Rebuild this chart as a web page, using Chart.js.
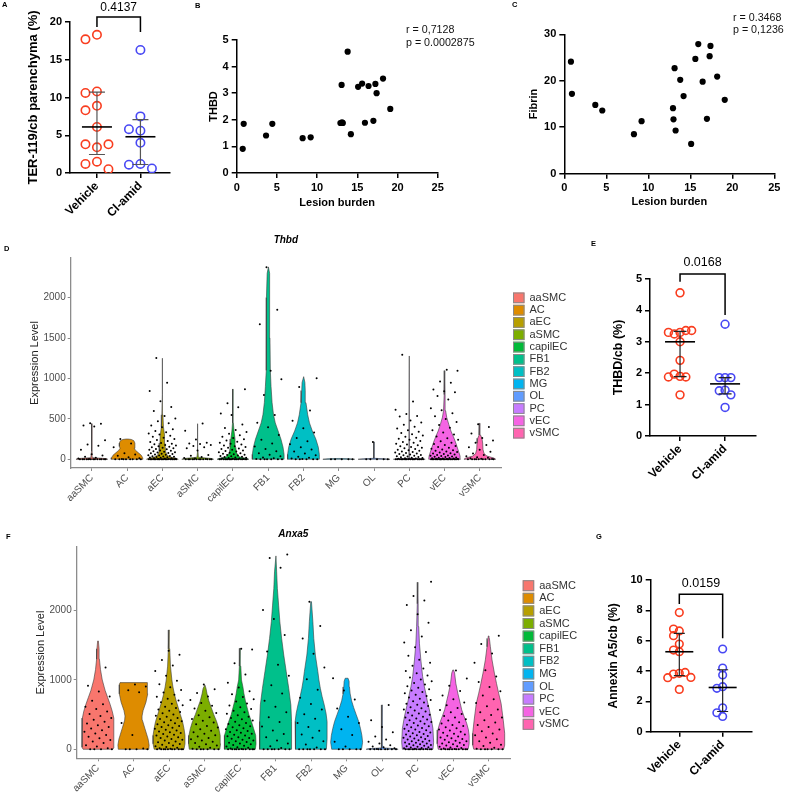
<!DOCTYPE html>
<html>
<head>
<meta charset="utf-8">
<script src="https://cdn.jsdelivr.net/npm/chart.js@4.4.1/dist/chart.umd.min.js"></script>
<style>
body { margin:0; background:#fff; width:786px; height:792px; position:relative; overflow:hidden; font-family:"Liberation Sans", Arial, sans-serif; }
canvas { position:absolute; }
.tag { position:absolute; font:bold 7.5px/8px "Liberation Sans", Arial, sans-serif; color:#000; }
.note { position:absolute; font:10.7px/13px "Liberation Sans", Arial, sans-serif; color:#111; white-space:nowrap; }
</style>
</head>
<body>
<canvas id="cA" width="180" height="225" style="left:0;top:0"></canvas>
<canvas id="cB" width="280" height="225" style="left:180px;top:0"></canvas>
<canvas id="cC" width="306" height="225" style="left:480px;top:0"></canvas>
<canvas id="cD" width="590" height="277" style="left:0;top:228px"></canvas>
<canvas id="cE" width="200" height="270" style="left:586px;top:235px"></canvas>
<canvas id="cF" width="590" height="272" style="left:0;top:520px"></canvas>
<canvas id="cG" width="200" height="272" style="left:586px;top:520px"></canvas>

<div class="tag" style="left:2px;top:1px">A</div>
<div class="tag" style="left:195px;top:2px">B</div>
<div class="tag" style="left:512px;top:1px">C</div>
<div class="tag" style="left:4px;top:245px">D</div>
<div class="tag" style="left:591px;top:240px">E</div>
<div class="tag" style="left:6px;top:533px">F</div>
<div class="tag" style="left:596px;top:533px">G</div>
<div class="note" style="left:406px;top:22.5px">r = 0,7128<br>p = 0.0002875</div>
<div class="note" style="left:733px;top:10.5px;line-height:12.5px">r = 0.3468<br>p = 0,1236</div>

<script>
Chart.defaults.font.family = "'Liberation Sans', Arial, Helvetica, sans-serif";
Chart.defaults.color = '#000';

// ---- data ----
const groupNames = ['Vehicle', 'Cl-amid'];
const groupColors = ['#F93D1F', '#4848F4'];

// A: TER-119/cb parenchyma (%)
const terVehicle = [18.3, 17.7, 10.8, 10.6, 8.9, 8.3, 6.1, 3.4, 3.8, 3.8, 1.5, 1.2, 0.5];
const terClamid = [16.3, 7.5, 5.6, 5.8, 4.0, 1.2, 1.1, 0.6];
const terTicks = [0, 5, 10, 15, 20];

// B: THBD vs lesion burden
const thbdLesion = [0.75, 0.87, 3.65, 4.43, 8.2, 9.2, 12.9, 13.05, 13.1, 13.2, 13.8, 14.2, 15.1, 15.6, 15.95, 16.4, 17.0, 17.25, 17.4, 18.2, 19.1];
const thbdLevel = [0.91, 1.85, 1.41, 1.85, 1.31, 1.34, 1.88, 3.31, 1.9, 1.88, 4.56, 1.46, 3.24, 3.36, 1.89, 3.27, 1.96, 3.35, 3.0, 3.55, 2.41];
const thbdTicks = [0, 1, 2, 3, 4, 5];

// C: Fibrin vs lesion burden
const fibrinLesion = [0.79, 0.91, 3.69, 4.52, 8.29, 9.2, 12.94, 13.0, 13.13, 13.25, 13.8, 14.2, 15.1, 15.6, 15.95, 16.47, 16.98, 17.3, 17.4, 18.2, 19.1];
const fibrinLevel = [24.1, 17.2, 14.8, 13.6, 8.5, 11.3, 14.1, 11.7, 22.7, 9.3, 20.2, 16.7, 6.4, 24.7, 27.9, 19.8, 11.8, 25.3, 27.5, 20.9, 15.9];
const fibrinTicks = [0, 10, 20, 30];
const lesionTicks = [0, 5, 10, 15, 20, 25];

// E: THBD/cb (%)
const thbdVehicle = [4.56, 3.3, 3.25, 3.36, 3.3, 3.36, 3.0, 2.41, 1.9, 1.97, 1.88, 1.88, 1.31];
const thbdClamid = [3.56, 1.86, 1.86, 1.86, 1.46, 1.44, 1.31, 0.91];
const thbdCbTicks = [0, 1, 2, 3, 4, 5];

// G: Annexin A5/cb (%)
const annexinVehicle = [7.85, 6.64, 6.33, 6.77, 5.78, 5.27, 5.38, 3.85, 3.8, 3.91, 3.56, 3.58, 2.79];
const annexinClamid = [5.45, 4.2, 3.74, 2.97, 2.86, 1.58, 1.25, 1.01];
const annexinTicks = [0, 2, 4, 6, 8, 10];

// D / F: single-cell violins
const cellTypes = ['aaSMC', 'AC', 'aEC', 'aSMC', 'capilEC', 'FB1', 'FB2', 'MG', 'OL', 'PC', 'vEC', 'vSMC'];
const cellColors = ['#F8766D', '#DE8C00', '#B79F00', '#7CAE00', '#00BA38', '#00C08B', '#00BFC4', '#00B4F0', '#619CFF', '#C77CFF', '#F564E3', '#FF64B0'];
const thbdExprTicks = [0, 500, 1000, 1500, 2000];
const anxa5ExprTicks = [0, 1000, 2000];

// violin half-widths [level, half width] per cell type
const thbdShape = [
  [[0, .45], [8, .4], [20, .03], [100, .01], [440, .006]],
  [[0, .45], [20, .44], [50, .4], [80, .32], [110, .24], [135, .2], [160, .22], [200, .22], [230, .19], [245, .12], [250, .03]],
  [[0, .45], [10, .4], [30, .2], [60, .12], [100, .09], [200, .07], [300, .06], [400, .03], [550, .015], [800, .008], [1250, .006]],
  [[0, .45], [10, .38], [25, .02], [100, .008], [440, .006]],
  [[0, .45], [10, .4], [30, .18], [80, .1], [150, .08], [250, .06], [350, .03], [450, .012], [867, .006]],
  [[0, .45], [60, .45], [150, .42], [250, .36], [350, .28], [450, .2], [550, .15], [700, .11], [900, .08], [1100, .06], [1500, .05], [2000, .05], [2300, .03], [2380, .005]],
  [[0, .45], [60, .45], [150, .42], [250, .35], [350, .25], [450, .17], [550, .12], [700, .07], [850, .05], [950, .04], [1022, .005]],
  [[0, .45], [6, .3], [10, .003]],
  [[0, .45], [6, .3], [12, .01], [215, .006]],
  [[0, .45], [6, .3], [12, .01], [1278, .006]],
  [[0, .45], [40, .44], [120, .38], [200, .32], [280, .25], [350, .18], [430, .12], [520, .06], [600, .03], [800, .015], [1097, .006]],
  [[0, .45], [15, .4], [40, .2], [70, .12], [120, .09], [200, .08], [260, .06], [300, .02], [445, .006]]
];
const thbdCells = [
  [0, 0, 0, 0, 0, 0, 0, 0, 0, 0, 0, 0, 0, 4, 9, 18, 32, 48, 62, 118, 168, 182, 236, 405, 418, 440, 446],
  [0, 0, 0, 0, 0, 0, 0, 0, 3, 12, 25, 44, 60, 74, 148, 196, 252],
  [0, 0, 0, 0, 0, 0, 0, 0, 0, 0, 0, 0, 0, 0, 0, 0, 0, 0, 0, 0, 2, 4, 7, 9, 12, 14, 18, 21, 24, 28, 31, 35, 38, 42, 47, 51, 56, 60, 64, 69, 73, 78, 84, 88, 93, 99, 104, 110, 117, 123, 128, 136, 142, 149, 155, 162, 170, 176, 185, 193, 201, 214, 226, 238, 251, 265, 278, 292, 305, 318, 334, 351, 372, 395, 418, 446, 470, 505, 535, 598, 648, 718, 845, 948, 1252],
  [0, 0, 0, 0, 0, 0, 0, 0, 0, 0, 0, 0, 3, 8, 16, 27, 44, 52, 108, 135, 148, 165, 176, 188, 196, 204, 246, 352, 442],
  [0, 0, 0, 0, 0, 0, 0, 0, 0, 0, 0, 0, 0, 0, 0, 0, 0, 2, 5, 8, 11, 15, 19, 23, 27, 32, 36, 41, 46, 52, 57, 63, 69, 75, 82, 88, 95, 102, 110, 118, 126, 134, 143, 152, 162, 171, 182, 193, 205, 218, 232, 247, 263, 280, 298, 317, 338, 362, 388, 430, 548, 566, 645, 692, 866],
  [0, 0, 0, 0, 0, 0, 4, 12, 23, 37, 55, 74, 98, 126, 158, 196, 242, 300, 396, 452, 548, 795, 990, 1095, 1670, 1850, 2375],
  [0, 0, 0, 0, 0, 3, 9, 18, 32, 51, 72, 96, 122, 150, 185, 222, 262, 330, 384, 478, 602, 895, 1002],
  [0, 0, 0, 0, 0],
  [0, 0, 0, 0, 0, 215],
  [0, 0, 0, 0, 0, 0, 0, 0, 0, 0, 0, 0, 0, 0, 0, 0, 0, 0, 2, 5, 8, 12, 16, 20, 25, 29, 34, 38, 43, 49, 54, 60, 65, 71, 77, 83, 90, 97, 104, 111, 119, 127, 135, 144, 153, 162, 172, 182, 193, 204, 215, 227, 240, 253, 266, 280, 295, 310, 326, 342, 360, 380, 402, 428, 455, 480, 528, 536, 560, 612, 716, 1292],
  [0, 0, 0, 0, 0, 0, 0, 0, 0, 0, 0, 0, 0, 0, 0, 0, 0, 0, 0, 0, 0, 0, 2, 4, 6, 9, 11, 14, 17, 20, 23, 27, 31, 35, 39, 44, 48, 53, 58, 64, 70, 76, 83, 90, 97, 105, 113, 122, 131, 141, 152, 164, 176, 190, 205, 222, 240, 260, 282, 305, 330, 358, 390, 425, 460, 498, 532, 570, 605, 632, 738, 782, 828, 842, 862, 948, 962, 1095, 1108],
  [0, 0, 0, 0, 0, 0, 0, 0, 0, 3, 7, 12, 18, 26, 38, 52, 70, 92, 118, 148, 176, 205, 232, 262, 318, 398, 432]
];

const anxa5Shape = [
  [[0, .42], [30, .45], [250, .45], [450, .44], [550, .4], [650, .34], [750, .27], [850, .2], [1000, .12], [1150, .07], [1300, .04], [1450, .03], [1563, .01]],
  [[0, .43], [60, .44], [150, .41], [300, .32], [420, .25], [480, .24], [560, .27], [680, .35], [800, .4], [930, .4], [962, .38]],
  [[0, .42], [80, .45], [200, .45], [300, .42], [400, .38], [500, .32], [600, .26], [700, .2], [800, .15], [900, .11], [1000, .08], [1200, .04], [1450, .02], [1722, .006]],
  [[0, .43], [80, .45], [200, .44], [300, .4], [400, .34], [500, .26], [600, .19], [700, .12], [800, .07], [880, .04], [928, .01]],
  [[0, .43], [80, .45], [200, .44], [300, .38], [400, .32], [500, .25], [600, .2], [700, .15], [800, .11], [900, .08], [1000, .04], [1200, .02], [1457, .006]],
  [[0, .45], [400, .45], [640, .43], [880, .37], [1120, .3], [1360, .23], [1600, .17], [1840, .12], [2080, .085], [2320, .05], [2560, .03], [2790, .01]],
  [[0, .43], [150, .45], [400, .45], [520, .42], [640, .37], [760, .31], [880, .26], [1000, .22], [1120, .19], [1360, .12], [1600, .075], [1840, .05], [2130, .01]],
  [[0, .42], [100, .45], [200, .43], [300, .39], [400, .34], [500, .27], [600, .2], [700, .14], [800, .1], [900, .08], [980, .07], [1025, .04]],
  [[0, .45], [8, .4], [20, .03], [60, .01], [640, .006]],
  [[0, .43], [100, .45], [300, .43], [450, .38], [570, .33], [700, .27], [810, .23], [900, .19], [1050, .14], [1290, .09], [1530, .05], [1770, .03], [2100, .015], [2410, .006]],
  [[0, .42], [80, .45], [200, .45], [280, .43], [375, .38], [470, .31], [570, .24], [660, .2], [810, .13], [950, .075], [1100, .04], [1145, .01]],
  [[0, .42], [60, .45], [230, .45], [420, .41], [660, .35], [810, .28], [950, .22], [1100, .16], [1290, .094], [1480, .047], [1600, .02], [1635, .01]]
];
const anxa5Cells = [
  [0, 0, 0, 0, 15, 40, 60, 90, 112, 135, 158, 182, 205, 228, 252, 276, 300, 322, 348, 372, 398, 425, 452, 480, 510, 545, 580, 612, 650, 700, 760, 832, 918, 1180],
  [0, 0, 0, 0, 12, 205, 380, 822, 852, 905, 935],
  [0, 0, 0, 0, 0, 0, 0, 0, 0, 0, 6, 15, 24, 34, 44, 55, 66, 78, 90, 102, 114, 126, 138, 150, 162, 174, 186, 198, 210, 222, 234, 246, 258, 270, 283, 296, 309, 322, 335, 348, 362, 376, 390, 405, 420, 436, 452, 468, 485, 502, 520, 538, 556, 575, 595, 615, 636, 658, 680, 705, 730, 758, 788, 820, 855, 895, 940, 990, 1060, 1130, 1210, 1290, 1365, 1420],
  [0, 0, 0, 0, 0, 0, 8, 22, 38, 55, 72, 90, 108, 126, 145, 164, 184, 204, 225, 246, 268, 290, 313, 336, 360, 385, 410, 436, 463, 492, 522, 555, 590, 628, 668, 712, 760, 812, 868, 935],
  [0, 0, 0, 0, 0, 0, 0, 0, 0, 0, 5, 13, 22, 31, 41, 51, 61, 72, 83, 94, 105, 116, 127, 139, 151, 163, 175, 187, 199, 211, 224, 237, 250, 263, 276, 290, 304, 318, 333, 348, 364, 380, 397, 414, 432, 450, 470, 490, 511, 533, 556, 580, 605, 632, 660, 690, 722, 756, 795, 838, 890, 960, 1080, 1240, 1440, 1452],
  [0, 0, 0, 0, 0, 0, 0, 18, 45, 82, 126, 172, 220, 272, 330, 395, 462, 535, 612, 700, 805, 925, 1060, 1220, 1410, 1650, 1880, 2010, 2620, 2760, 2810],
  [0, 0, 0, 0, 0, 0, 0, 25, 68, 115, 165, 215, 268, 322, 380, 440, 505, 575, 655, 745, 860, 1010, 1180, 1380, 1600, 1780, 2130],
  [0, 0, 0, 0, 0, 40, 110, 205, 290, 380, 470, 590, 720, 850, 1025],
  [0, 0, 0, 0, 0, 0, 0, 0, 5, 15, 28, 42, 60, 82, 108, 140, 185, 245, 320, 420, 640],
  [0, 0, 0, 0, 0, 0, 0, 0, 0, 0, 0, 0, 3, 8, 14, 19, 26, 31, 37, 44, 50, 57, 63, 71, 78, 85, 93, 99, 107, 116, 123, 131, 140, 147, 156, 166, 174, 183, 193, 201, 212, 221, 232, 243, 251, 263, 273, 286, 295, 308, 319, 331, 342, 355, 367, 379, 392, 403, 418, 431, 444, 459, 471, 487, 499, 516, 529, 546, 561, 575, 593, 607, 625, 642, 657, 676, 692, 712, 728, 749, 768, 786, 807, 825, 847, 866, 889, 911, 934, 956, 983, 1007, 1037, 1064, 1097, 1128, 1167, 1204, 1249, 1293, 1349, 1402, 1471, 1540, 1627, 1716, 1826, 1948, 2083, 2148, 2212, 2418],
  [0, 0, 0, 0, 0, 0, 0, 0, 0, 0, 4, 11, 19, 27, 37, 44, 55, 62, 74, 82, 94, 103, 115, 124, 137, 147, 161, 171, 186, 197, 212, 224, 240, 253, 270, 284, 302, 317, 336, 352, 373, 391, 414, 434, 459, 481, 509, 534, 566, 597, 636, 675, 723, 777, 842, 917, 1022, 1138],
  [0, 0, 0, 0, 0, 0, 8, 24, 46, 67, 93, 117, 146, 171, 201, 227, 259, 287, 321, 351, 387, 419, 457, 493, 535, 575, 621, 667, 721, 775, 837, 899, 971, 1049, 1142, 1248, 1382, 1518, 1638]
];

// ---- helpers ----
function quantile(sorted, p) {
  const pos = (sorted.length + 1) * p - 1;
  const lo = Math.max(0, Math.floor(pos)), hi = Math.min(sorted.length - 1, Math.ceil(pos));
  return sorted[lo] + (sorted[hi] - sorted[lo]) * (pos - lo);
}

// column scatter: push overlapping circles sideways (pixel based)
function swarm(vals, center, o) {
  const placed = [];
  return vals.map(v => {
    for (let k = 0; k < 30; k++) {
      const off = k === 0 ? 0 : (k % 2 ? -1 : 1) * Math.ceil(k / 2);
      const px = off * o.step;
      const free = placed.every(p => Math.hypot(p.px - px, (p.v - v) * o.yPx) >= o.dist);
      if (free) {
        placed.push({px, v});
        return {x: center + px / o.xPx, y: v};
      }
    }
    return {x: center, y: v};
  });
}

function jitter(j) {
  return ((j * 0.618034 + 0.37) % 1 - 0.5) * 0.8;
}

function outline(center, profile) {
  const right = profile.map(([v, w]) => ({x: center + w, y: v}));
  const left = profile.slice().reverse().map(([v, w]) => ({x: center - w, y: v}));
  return right.concat(left, [right[0]]);
}

const fixedTicks = list => s => { s.ticks = list.map(v => ({value: v})); };

function bracket(b) {
  return {
    id: 'bracket',
    afterDraw(chart) {
      const {ctx, scales: {x, y}} = chart;
      const x0 = x.getPixelForValue(0), x1 = x.getPixelForValue(1);
      const yt = y.getPixelForValue(b.top);
      ctx.save();
      ctx.strokeStyle = '#000';
      ctx.lineWidth = 1.5;
      ctx.beginPath();
      ctx.moveTo(x0, y.getPixelForValue(b.left));
      ctx.lineTo(x0, yt);
      ctx.lineTo(x1, yt);
      ctx.lineTo(x1, y.getPixelForValue(b.right));
      ctx.stroke();
      ctx.fillStyle = '#000';
      ctx.font = b.size + "px 'Liberation Sans', Arial, sans-serif";
      ctx.textAlign = 'center';
      ctx.textBaseline = 'alphabetic';
      ctx.fillText(b.text, (x0 + x1) / 2, yt - b.gap);
      ctx.restore();
    }
  };
}

function medianIqr(groups, st) {
  return {
    id: 'medianIqr',
    afterDatasetsDraw(chart) {
      const {ctx, scales: {x, y}} = chart;
      ctx.save();
      groups.forEach((vals, g) => {
        const s = vals.slice().sort((a, b) => a - b);
        const cx = x.getPixelForValue(g);
        const lo = y.getPixelForValue(quantile(s, 0.25));
        const hi = y.getPixelForValue(quantile(s, 0.75));
        const md = y.getPixelForValue(quantile(s, 0.5));
        ctx.strokeStyle = st.whisker;
        ctx.lineWidth = 1.2;
        ctx.beginPath();
        ctx.moveTo(cx, lo); ctx.lineTo(cx, hi);
        ctx.moveTo(cx - st.cw, lo); ctx.lineTo(cx + st.cw, lo);
        ctx.moveTo(cx - st.cw, hi); ctx.lineTo(cx + st.cw, hi);
        ctx.stroke();
        ctx.strokeStyle = '#000';
        ctx.lineWidth = 1.6;
        ctx.beginPath();
        ctx.moveTo(cx - st.mw, md); ctx.lineTo(cx + st.mw, md);
        ctx.stroke();
      });
      ctx.restore();
    }
  };
}

function keyLegend(gap, pitch) {
  return {
    id: 'keyLegend',
    afterDraw(chart) {
      const {ctx, chartArea} = chart;
      const x0 = chartArea.right + gap;
      const y0 = (chartArea.top + chartArea.bottom) / 2 + 2.5 - cellTypes.length * pitch / 2;
      ctx.save();
      ctx.font = "11px 'Liberation Sans', Arial, sans-serif";
      ctx.textBaseline = 'middle';
      cellTypes.forEach((name, i) => {
        const y = y0 + i * pitch;
        ctx.fillStyle = cellColors[i];
        ctx.fillRect(x0, y + 0.8, 11.5, pitch - 1.6);
        ctx.strokeStyle = '#8a8a8a';
        ctx.lineWidth = 1;
        ctx.strokeRect(x0 + 0.5, y + 1.3, 10.5, pitch - 2.6);
        ctx.fillStyle = '#333';
        ctx.fillText(name, x0 + 16.5, y + pitch / 2);
      });
      ctx.restore();
    }
  };
}

const prismGrid = {drawOnChartArea: false, color: '#000', lineWidth: 1.5, tickLength: 5};
const prismBorder = {color: '#000', width: 1.5};

function dotPlot(id, groups, o) {
  const datasets = groups.map((vals, g) => ({
    data: swarm(vals, g, o),
    pointRadius: o.r,
    borderWidth: 1.6,
    borderColor: groupColors[g],
    backgroundColor: 'rgba(0,0,0,0)'
  }));
  return new Chart(document.getElementById(id), {
    type: 'scatter',
    data: {datasets},
    options: {
      responsive: false, animation: false, events: [],
      layout: {padding: o.pad},
      plugins: {legend: {display: false}, tooltip: {enabled: false}},
      scales: {
        x: {
          type: 'linear', min: o.xMin, max: o.xMax,
          afterBuildTicks: s => { s.ticks = groups.map((_, g) => ({value: g})); },
          afterFit: s => { s.height = o.xH; },
          ticks: {autoSkip: false, minRotation: 45, maxRotation: 45, padding: 1, color: '#000',
            font: {weight: 'bold', size: 12}, callback: v => groupNames[v]},
          grid: prismGrid, border: prismBorder
        },
        y: {
          min: 0, max: o.yMax,
          afterBuildTicks: fixedTicks(o.yTicks),
          afterFit: s => { s.width = o.yW; },
          ticks: {padding: 3, color: '#000', font: {weight: 'bold', size: 11}},
          grid: prismGrid, border: prismBorder,
          title: {display: true, text: o.yTitle, color: '#000', padding: 0, font: {weight: 'bold', size: o.tSize}}
        }
      }
    },
    plugins: [medianIqr(groups, o.bars), bracket(o.bracket)]
  });
}

function scatterPlot(id, xs, ys, o) {
  return new Chart(document.getElementById(id), {
    type: 'scatter',
    data: {datasets: [{data: xs.map((x, i) => ({x, y: ys[i]})), pointRadius: 3.1, backgroundColor: '#000', borderWidth: 0}]},
    options: {
      responsive: false, animation: false, events: [],
      layout: {padding: o.pad},
      plugins: {legend: {display: false}, tooltip: {enabled: false}},
      scales: {
        x: {
          min: 0, max: 25,
          afterBuildTicks: fixedTicks(lesionTicks),
          afterFit: s => { s.height = o.xH; },
          ticks: {padding: 3, color: '#000', font: {weight: 'bold', size: 11}},
          grid: prismGrid, border: prismBorder,
          title: {display: true, text: 'Lesion burden', color: '#000', padding: 0, font: {weight: 'bold', size: 11}}
        },
        y: {
          min: 0, max: o.yMax,
          afterBuildTicks: fixedTicks(o.yTicks),
          afterFit: s => { s.width = o.yW; },
          ticks: {padding: 3, color: '#000', font: {weight: 'bold', size: 11}},
          grid: prismGrid, border: prismBorder,
          title: {display: true, text: o.yTitle, color: '#000', padding: 0, font: {weight: 'bold', size: 11}}
        }
      }
    }
  });
}

function violinPlot(id, shapes, cells, o) {
  const datasets = [{
    data: cells.flatMap((vals, i) => vals.map((v, j) => ({x: i + 1 + jitter(j), y: v}))),
    pointRadius: 1, backgroundColor: '#000', borderWidth: 0, order: 1
  }];
  shapes.forEach((prof, i) => datasets.push({
    data: outline(i + 1, prof),
    showLine: true, fill: 'shape',
    backgroundColor: cellColors[i], borderColor: '#3a3a3a', borderWidth: 0.6,
    pointRadius: 0, order: 2
  }));
  const axisGrid = {drawOnChartArea: false, color: '#8c8c8c', lineWidth: 1, tickLength: 3};
  const axisBorder = {color: '#8c8c8c', width: 1.3};
  return new Chart(document.getElementById(id), {
    type: 'scatter',
    data: {datasets},
    options: {
      responsive: false, animation: false, events: [],
      layout: {padding: {left: o.padL, right: o.padR, top: 0, bottom: 0}},
      plugins: {
        legend: {display: false}, tooltip: {enabled: false},
        title: {display: true, text: o.title, fullSize: false, color: '#000', padding: o.titlePad,
          font: {size: 10, weight: 'bold', style: 'italic'}}
      },
      scales: {
        x: {
          type: 'linear', min: 0.4, max: 12.6,
          afterBuildTicks: s => { s.ticks = cellTypes.map((_, i) => ({value: i + 1})); },
          afterFit: s => { s.height = o.xH; },
          ticks: {autoSkip: false, minRotation: 45, maxRotation: 45, padding: 1, color: '#4d4d4d',
            font: {size: 10}, callback: v => cellTypes[v - 1]},
          grid: axisGrid, border: axisBorder
        },
        y: {
          min: o.yMin, max: o.yMax,
          afterBuildTicks: fixedTicks(o.yTicks),
          afterFit: s => { s.width = o.yW; },
          ticks: {padding: 2, color: '#4d4d4d', font: {size: 10}, callback: v => String(v)},
          grid: axisGrid, border: axisBorder,
          title: {display: true, text: 'Expression Level', color: '#222', padding: 0, font: {size: 11}}
        }
      }
    },
    plugins: [keyLegend(o.gap, o.pitch)]
  });
}

// ---- panels ----
dotPlot('cA', [terVehicle, terClamid], {
  pad: {left: 25.8, right: 10, top: 22, bottom: 0}, yW: 44.2, xH: 52,
  xMin: -0.62, xMax: 1.68, yMax: 20, yTicks: terTicks,
  yTitle: 'TER-119/cb parenchyma (%)', tSize: 13, r: 4.2,
  yPx: 7.55, xPx: 43.5, step: 11.5, dist: 9,
  bars: {mw: 15, cw: 8, whisker: '#555'},
  bracket: {top: 20.66, left: 19.34, right: 18.68, text: '0.4137', size: 12, gap: 5.7}
});

scatterPlot('cB', thbdLesion, thbdLevel, {
  pad: {left: 27.4, right: 22.3, top: 40, bottom: 15}, yW: 29.3, xH: 37,
  yMax: 5, yTicks: thbdTicks, yTitle: 'THBD'
});

scatterPlot('cC', fibrinLesion, fibrinLevel, {
  pad: {left: 47.4, right: 11.7, top: 34.3, bottom: 16.8}, yW: 36.9, xH: 34.5,
  yMax: 30, yTicks: fibrinTicks, yTitle: 'Fibrin'
});

violinPlot('cD', thbdShape, thbdCells, {
  title: 'Thbd', titlePad: {top: 6.5, bottom: 11.5},
  padL: 28.4, padR: 89, yW: 42.3, xH: 37,
  yMin: -108, yMax: 2490, yTicks: thbdExprTicks, gap: 12, pitch: 12.3
});

dotPlot('cE', [thbdVehicle, thbdClamid], {
  pad: {left: 25.5, right: 30.3, top: 44, bottom: 0}, yW: 38.5, xH: 69,
  xMin: -0.667, xMax: 1.68, yMax: 5, yTicks: thbdCbTicks,
  yTitle: 'THBD/cb (%)', tSize: 12.5, r: 3.9,
  yPx: 31.4, xPx: 45, step: 5.8, dist: 5.6,
  bars: {mw: 15, cw: 6.5, whisker: '#222'},
  bracket: {top: 5.16, left: 4.91, right: 3.85, text: '0.0168', size: 12.5, gap: 7.8}
});

violinPlot('cF', anxa5Shape, anxa5Cells, {
  title: 'Anxa5', titlePad: {top: 8, bottom: 6.7},
  padL: 34.1, padR: 80, yW: 42.6, xH: 33.7,
  yMin: -130, yMax: 2923, yTicks: anxa5ExprTicks, gap: 12.7, pitch: 12.6
});

dotPlot('cG', [annexinVehicle, annexinClamid], {
  pad: {left: 20.8, right: 34.3, top: 60, bottom: 0}, yW: 43.9, xH: 60.3,
  xMin: -0.66, xMax: 1.67, yMax: 10, yTicks: annexinTicks,
  yTitle: 'Annexin A5/cb (%)', tSize: 12, r: 3.8,
  yPx: 15.17, xPx: 43.4, step: 5.8, dist: 5.6,
  bars: {mw: 14, cw: 5.5, whisker: '#222'},
  bracket: {top: 9.06, left: 8.42, right: 6.16, text: '0.0159', size: 12.5, gap: 6.8}
});
</script>
</body>
</html>
